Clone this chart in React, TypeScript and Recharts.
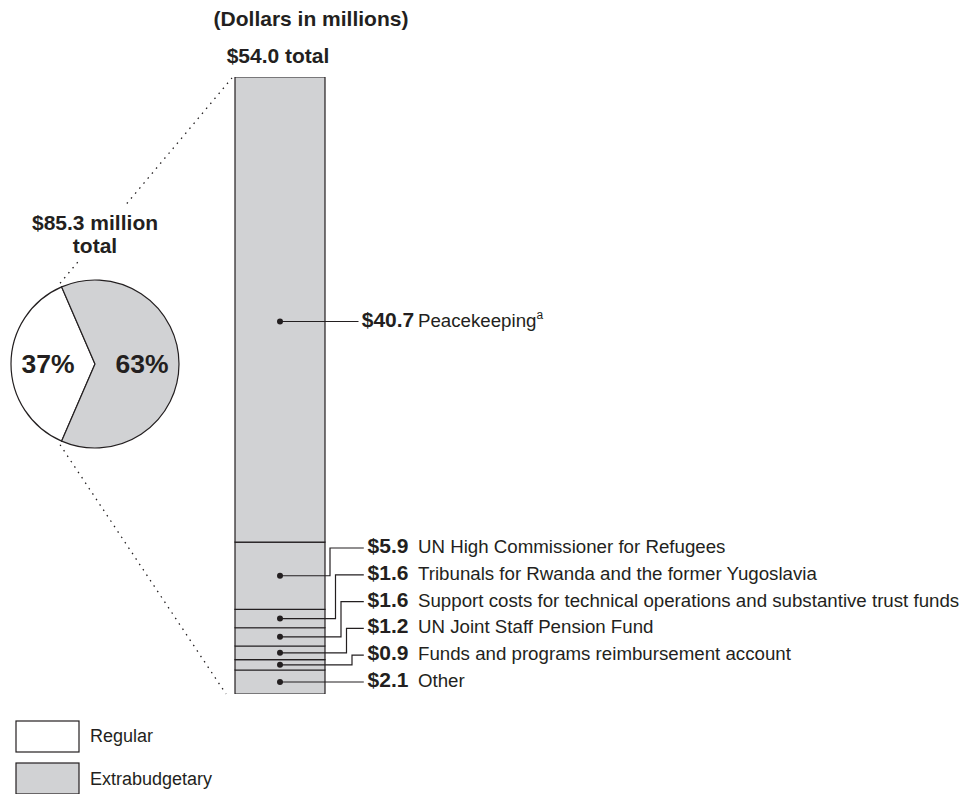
import { Bar, BarChart, Cell, LabelList, Pie, PieChart, XAxis, YAxis } from 'recharts'

// bottom-up order of the stacked bar
const categories = [
  'Other',
  'Funds and programs reimbursement account',
  'UN Joint Staff Pension Fund',
  'Support costs for technical operations and substantive trust funds',
  'Tribunals for Rwanda and the former Yugoslavia',
  'UN High Commissioner for Refugees',
  'Peacekeeping',
]
const amounts = [2.1, 0.9, 1.2, 1.6, 1.6, 5.9, 40.7]
const footnotes = ['', '', '', '', '', '', 'a']
const barTotal = 54.0

const pieNames = ['Regular', 'Extrabudgetary']
const pieShares = [37, 63]
const pieTotal = 85.3

const W = 977
const H = 794
const FONT = '"Liberation Sans", Arial, Helvetica, sans-serif'
const INK = '#231f20'
const GRAY = '#d1d2d4'
const pieColors = ['#ffffff', GRAY]

const M = { top: 77, right: 652, bottom: 100, left: 235 }
const PLOT_H = H - M.top - M.bottom
const yOf = (v: number) => M.top + PLOT_H * (1 - v / barTotal)

const barData = [
  { name: 'Extrabudgetary', ...Object.fromEntries(amounts.map((v, i) => [`s${i}`, v])) },
]
const pieData = pieNames.map((name, i) => ({ name, value: pieShares[i] }))

// pie geometry
const PIE_CX = 95
const PIE_CY = 364
const PIE_R = 84
const START = 180 - (pieShares[0] / 100) * 180
const RAD = Math.PI / 180
const onCircle = (deg: number, r: number) => ({
  x: PIE_CX + r * Math.cos(deg * RAD),
  y: PIE_CY - r * Math.sin(deg * RAD),
})

function SegmentLabel(props: any) {
  const i: number = props.i
  const vb = props.viewBox ?? props
  const x = Number(vb.x)
  const y = Number(vb.y)
  const w = Number(vb.width)
  const h = Number(vb.height)
  const top = Math.min(y, y + h)
  const last = amounts.length - 1
  const dotX = x + w / 2
  // the big segment's marker sits a little below its middle in the original
  const dotY = top + Math.abs(h) / 2 + (i === last ? 12 : 0)
  const otherY = yOf(amounts[0] / 2)
  const rowY = i === last ? dotY : otherY - i * 26.8
  const text = '$' + amounts[i].toFixed(1)
  const valueX = 388
  const lineEnd = valueX - text.length * 5.3 - 3
  const elbowX = 330 + (last - 1 - i) * 5.5
  const d =
    i === 0 || i === last
      ? `M${dotX},${dotY}H${lineEnd}`
      : `M${dotX},${dotY}H${elbowX}V${rowY}H${lineEnd}`
  return (
    <g>
      <path d={d} fill="none" stroke={INK} strokeWidth={1.2} />
      <circle cx={dotX} cy={dotY} r={3} fill={INK} />
      <text x={valueX} y={rowY + 5} textAnchor="middle" fontWeight="bold" fontSize={21} fill={INK} fontFamily={FONT}>
        {text}
      </text>
      <text x={418} y={rowY + 5} fontSize={18.7} fill={INK} fontFamily={FONT}>
        {categories[i]}
        {footnotes[i] && (
          <tspan dy={-8} fontSize={12}>
            {footnotes[i]}
          </tspan>
        )}
      </text>
    </g>
  )
}

function PieLabel(props: any) {
  const { cx, cy, midAngle, outerRadius, index } = props
  const r = outerRadius * 0.56
  const px = cx + r * Math.cos(-midAngle * RAD)
  const py = cy + r * Math.sin(-midAngle * RAD)
  return (
    <text x={px} y={py + 9} textAnchor="middle" fontWeight="bold" fontSize={26.5} fill={INK} fontFamily={FONT}>
      {pieShares[index]}%
    </text>
  )
}

export default function App() {
  const upFrom = onCircle(START, PIE_R + 4)
  const downFrom = onCircle(START + (pieShares[0] / 100) * 360, PIE_R + 4)
  return (
    <div style={{ position: 'relative', width: W, height: H, fontFamily: FONT, background: '#fff' }}>
      <style>{'body{margin:0}'}</style>
      <BarChart width={W} height={H} data={barData} margin={M} barCategoryGap={0} style={{ position: 'absolute', left: 0, top: 0 }}>
        <XAxis dataKey="name" hide />
        <YAxis hide domain={[0, barTotal]} allowDataOverflow />
        {amounts.map((_, i) => (
          <Bar key={i} dataKey={`s${i}`} stackId="a" fill={GRAY} stroke={INK} strokeWidth={1.2} isAnimationActive={false}>
            <LabelList dataKey={`s${i}`} content={(p: any) => <SegmentLabel {...p} i={i} />} />
          </Bar>
        ))}
      </BarChart>

      <svg width={W} height={H} style={{ position: 'absolute', left: 0, top: 0 }}>
        <line x1={upFrom.x} y1={upFrom.y} x2={232} y2={78} stroke={INK} strokeWidth={1.3} strokeDasharray="1.5 5" />
        <line x1={downFrom.x} y1={downFrom.y} x2={226} y2={694} stroke={INK} strokeWidth={1.3} strokeDasharray="1.5 5" />
        <rect x={28} y={206} width={136} height={54} fill="#fff" />
        <text x={95} y={230} textAnchor="middle" fontWeight="bold" fontSize={21} fill={INK}>
          ${pieTotal.toFixed(1)} million
        </text>
        <text x={95} y={253} textAnchor="middle" fontWeight="bold" fontSize={21} fill={INK}>
          total
        </text>
        <text x={311} y={26} textAnchor="middle" fontWeight="bold" fontSize={21} fill={INK}>
          (Dollars in millions)
        </text>
        <text x={278} y={63} textAnchor="middle" fontWeight="bold" fontSize={21} fill={INK}>
          ${barTotal.toFixed(1)} total
        </text>
        {pieNames.map((name, i) => (
          <g key={name}>
            <rect x={16} y={721 + i * 42} width={63} height={31} fill={pieColors[i]} stroke={INK} strokeWidth={1.2} />
            <text x={90} y={742 + i * 43} fontSize={18} fill={INK}>
              {name}
            </text>
          </g>
        ))}
      </svg>

      <PieChart width={W} height={H} margin={{ top: 0, right: 0, bottom: 0, left: 0 }} style={{ position: 'absolute', left: 0, top: 0 }}>
        <Pie
          data={pieData}
          dataKey="value"
          cx={PIE_CX}
          cy={PIE_CY}
          outerRadius={PIE_R}
          startAngle={START}
          endAngle={START + 360}
          stroke={INK}
          strokeWidth={1.2}
          label={PieLabel}
          labelLine={false}
          isAnimationActive={false}
        >
          {pieData.map((d, i) => (
            <Cell key={d.name} fill={pieColors[i]} />
          ))}
        </Pie>
      </PieChart>
    </div>
  )
}
